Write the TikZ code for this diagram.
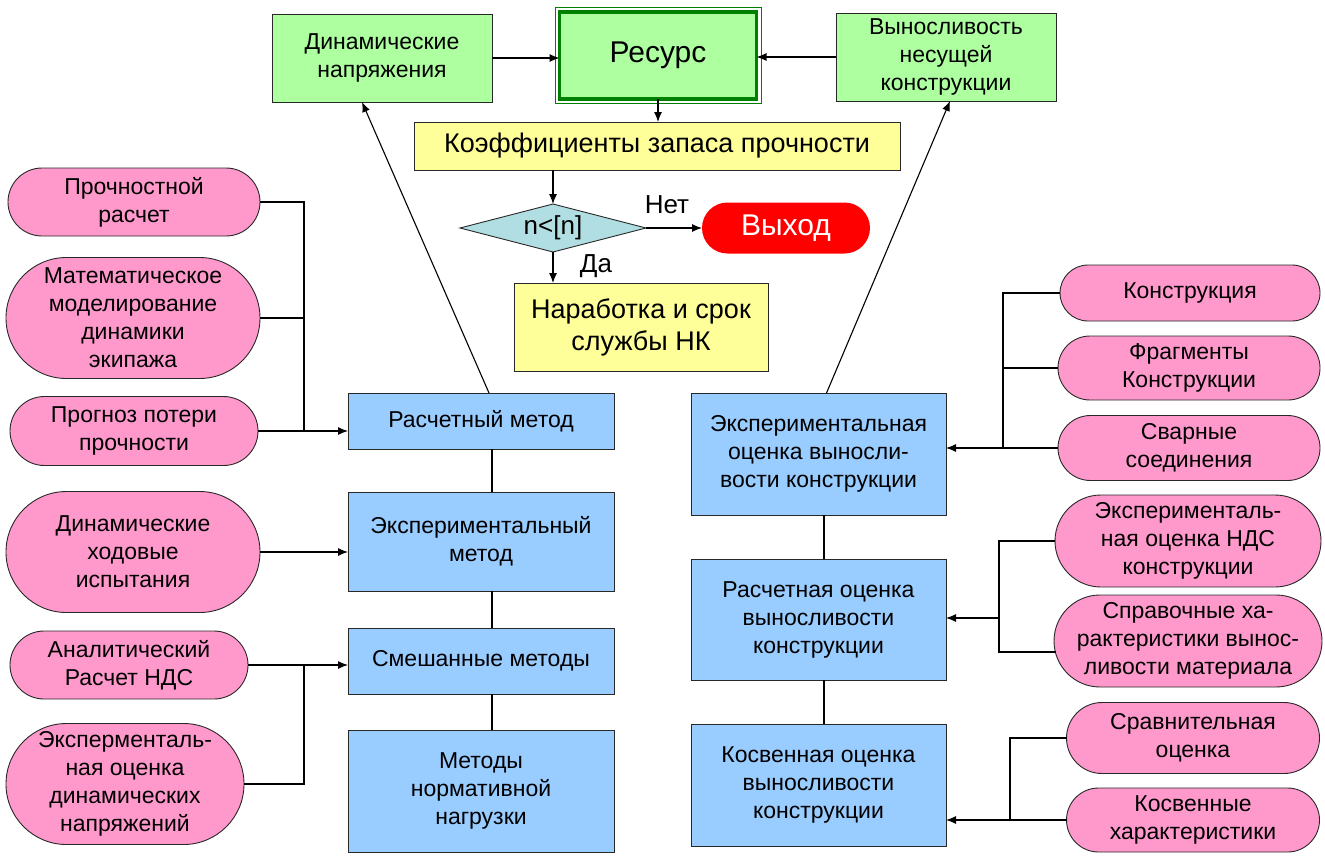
\documentclass[tikz,border=0pt]{standalone}
\usepackage{fontspec}
\setmainfont{Liberation Sans}
\usetikzlibrary{arrows.meta,shapes.geometric,shapes.misc,calc}
\definecolor{fillcolor1}{RGB}{173,255,160}
\definecolor{fillcolor2}{RGB}{255,153,204}
\definecolor{fillcolor3}{RGB}{153,204,255}
\definecolor{fillcolor4}{RGB}{255,255,153}
\definecolor{fillcolor5}{RGB}{176,222,226}
\definecolor{fillcolor6}{RGB}{255,0,0}
\definecolor{linecolor1}{RGB}{0,128,0}
\definecolor{linecolor2}{RGB}{40,40,40}

\begin{document}
\begin{tikzpicture}[x=1bp,y=-1bp,inner sep=0pt,outer sep=0pt,
  txt/.style={font=\fontsize{23bp}{28bp}\selectfont,align=center},
  bigtxt/.style={font=\fontsize{27bp}{32bp}\selectfont,align=center},
  box/.style={txt,draw=linecolor2,line width=0.9bp,rectangle},
  greenbox/.style={box,fill=fillcolor1},
  bluebox/.style={box,fill=fillcolor3},
  yellowbox/.style={box,fill=fillcolor4},
  pill/.style={txt,draw=linecolor2,line width=0.9bp,rounded rectangle,fill=fillcolor2},
  conn/.style={line width=1.1bp,draw=black},
  arr/.style={conn,-{Latex[length=10bp,width=8bp]}}]
  \useasboundingbox (0,0) rectangle (1325,856);
  \fill[white] (0,0) rectangle (1325,856);
  % top row
  \node[greenbox,minimum width=220bp,minimum height=88bp] (dn) at (382,58) {Динамические\\напряжения};
  \node[greenbox,minimum width=197bp,minimum height=87bp,draw=linecolor1,line width=3.5bp,font=\fontsize{30bp}{34bp}\selectfont] (res) at (658,55.5) {Ресурс};
  \draw[linecolor1,line width=0.9bp] ($(res.north west)+(-4.5,-4.5)$) rectangle ($(res.south east)+(4.5,4.5)$);
  \node[greenbox,minimum width=220bp,minimum height=88bp] (vn) at (946,57) {Выносливость\\несущей\\конструкции};
  \node[yellowbox,bigtxt,minimum width=486bp,minimum height=48bp] (koef) at (657,146) {Коэффициенты запаса прочности};
  \node[diamond,draw=linecolor2,line width=0.9bp,fill=fillcolor5,aspect=3.9,minimum width=186bp,minimum height=48bp,font=\fontsize{26bp}{30bp}\selectfont] (dia) at (553,228) {n<[n]};
  \node[rounded rectangle,fill=fillcolor6,minimum width=168bp,minimum height=51bp,text=white,font=\fontsize{30bp}{34bp}\selectfont] (exit) at (786,228) {Выход};
  \node[font=\fontsize{26bp}{30bp}\selectfont] (no) at (667,205) {Нет};
  \node[font=\fontsize{26bp}{30bp}\selectfont] (yes) at (596,266) {Да};
  \node[yellowbox,bigtxt,minimum width=254bp,minimum height=88bp] (nar) at (641,327) {Наработка и срок\\службы НК};
  % left pills
  \node[pill,minimum width=252bp,minimum height=68bp] (prch) at (134,202) {Прочностной\\расчет};
  \node[pill,minimum width=254bp,minimum height=121bp] (mat) at (133,318) {Математическое\\моделирование\\динамики\\экипажа};
  \node[pill,minimum width=248bp,minimum height=69bp] (prog) at (134,431) {Прогноз потери\\прочности};
  \node[pill,minimum width=254bp,minimum height=121bp] (dhi) at (133,552) {Динамические\\ходовые\\испытания};
  \node[pill,minimum width=238bp,minimum height=68bp] (anl) at (129,665) {Аналитический\\Расчет НДС};
  \node[pill,minimum width=238bp,minimum height=121bp] (exd) at (125,784) {Эксперменталь-\\ная оценка\\динамических\\напряжений};
  % left methods
  \node[bluebox,minimum width=266bp,minimum height=56bp] (rm) at (481,421) {Расчетный метод};
  \node[bluebox,minimum width=266bp,minimum height=99bp] (em) at (481,541.5) {Экспериментальный\\метод};
  \node[bluebox,minimum width=266bp,minimum height=66bp] (sm) at (481,661) {Смешанные методы};
  \node[bluebox,minimum width=266bp,minimum height=122bp] (mn) at (481,791) {Методы\\нормативной\\нагрузки};
  % right estimates
  \node[bluebox,minimum width=255bp,minimum height=122bp] (eov) at (818.5,454) {Экспериментальная\\оценка выносли-\\вости конструкции};
  \node[bluebox,minimum width=255bp,minimum height=121bp] (rov) at (818.5,619.5) {Расчетная оценка\\выносливости\\конструкции};
  \node[bluebox,minimum width=255bp,minimum height=122bp] (kov) at (818.5,785) {Косвенная оценка\\выносливости\\конструкции};
  % right pills
  \node[pill,minimum width=260bp,minimum height=56bp] (kn) at (1190,293) {Конструкция};
  \node[pill,minimum width=262bp,minimum height=64bp] (fr) at (1189,368) {Фрагменты\\Конструкции};
  \node[pill,minimum width=262bp,minimum height=65bp] (sv) at (1189,448) {Сварные\\соединения};
  \node[pill,minimum width=266bp,minimum height=92bp] (ndc) at (1188,541) {Эксперименталь-\\ная оценка НДС\\конструкции};
  \node[pill,minimum width=268bp,minimum height=92bp] (spr) at (1188,641) {Справочные ха-\\рактеристики вынос-\\ливости материала};
  \node[pill,minimum width=253bp,minimum height=71bp] (srv) at (1193,738) {Сравнительная\\оценка};
  \node[pill,minimum width=253bp,minimum height=64bp] (ksv) at (1193,820) {Косвенные\\характеристики};
  % bus points
  \coordinate (busL1) at (304,431);
  \coordinate (busL2) at (304,665);
  \coordinate (busR1) at (1003,448);
  \coordinate (busR2) at (999,618);
  \coordinate (busR3) at (1010,820);
  % top connectors
  \draw[arr] (dn.east) -- (dn.east -| res.west);
  \draw[arr] (vn.west) -- (vn.west -| res.east);
  \draw[arr] (res.south) -- (res.south |- koef.north);
  \draw[arr] (dia.north |- koef.south) -- (dia.north);
  \draw[arr] (dia.east) -- (exit.west);
  \draw[arr] (dia.south) -- (dia.south |- nar.north);
  \draw[arr] ([xshift=8bp]rm.north) -- ([xshift=-20bp]dn.south);
  \draw[arr] ([xshift=8bp]eov.north) -- ([xshift=4bp]vn.south);
  % left connectors
  \draw[conn] (prch.east) -| (busL1);
  \draw[conn] (mat.east) -- (mat.east -| busL1);
  \draw[arr] (prog.east) -- (prog.east -| rm.west);
  \draw[arr] (dhi.east) -- (dhi.east -| em.west);
  \draw[arr] (anl.east) -- (anl.east -| sm.west);
  \draw[conn] (exd.east) -| (busL2);
  \draw[conn] ([xshift=11bp]rm.south) -- ([xshift=11bp]em.north);
  \draw[conn] ([xshift=11bp]em.south) -- ([xshift=11bp]sm.north);
  \draw[conn] ([xshift=11bp]sm.south) -- ([xshift=11bp]mn.north);
  % right connectors
  \draw[conn] (kn.west) -| (busR1);
  \draw[conn] (fr.west) -- (fr.west -| busR1);
  \draw[arr] (sv.west) -- (sv.west -| eov.east);
  \draw[conn] (ndc.west) -| (busR2) |- ([yshift=-11bp,xshift=1.5bp]spr.west);
  \draw[arr] (busR2) -- (busR2 -| rov.east);
  \draw[conn] (srv.west) -| (busR3);
  \draw[arr] (ksv.west) -- (ksv.west -| kov.east);
  \draw[conn] ([xshift=5.5bp]eov.south) -- ([xshift=5.5bp]rov.north);
  \draw[conn] ([xshift=5.5bp]rov.south) -- ([xshift=5.5bp]kov.north);
\end{tikzpicture}
\end{document}
